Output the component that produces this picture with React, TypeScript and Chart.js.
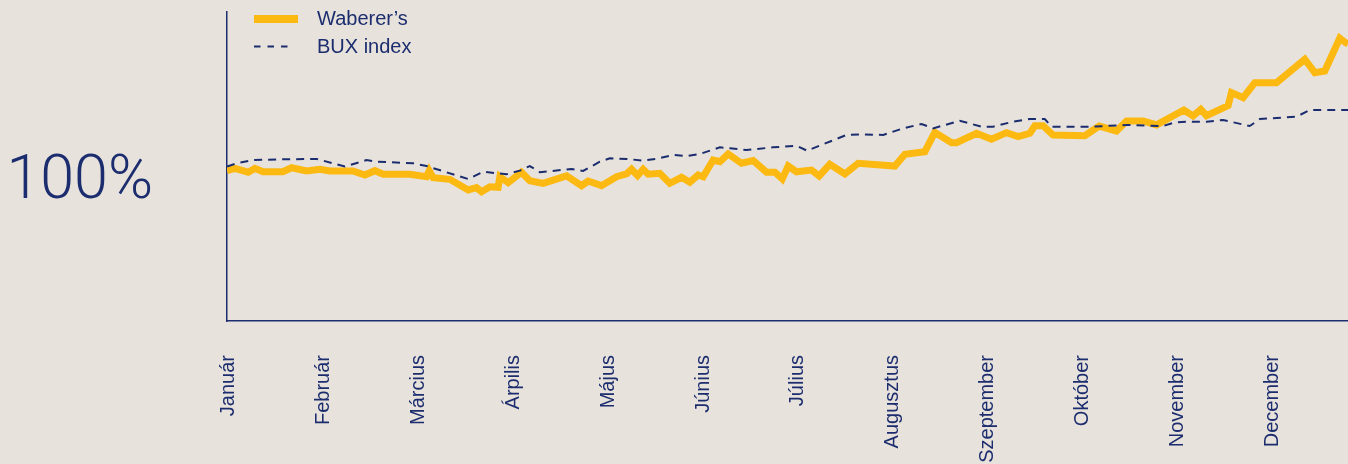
import React, { useEffect, useRef } from 'react';
import { Chart, registerables } from 'chart.js';

Chart.register(...registerables);

const months = ['Január', 'Február', 'Március', 'Árpilis', 'Május', 'Június', 'Július', 'Augusztus', 'Szeptember', 'Október', 'November', 'December'];

// x in month units (0 = start of January), y in % of the starting level
const wabererX = [-0.02, 0.063, 0.203, 0.274, 0.358, 0.569, 0.661, 0.819, 0.959, 1.065, 1.307, 1.434, 1.539, 1.627, 1.908, 2.084, 2.112, 2.154, 2.33, 2.523, 2.611, 2.664, 2.752, 2.839, 2.857, 2.945, 3.084, 3.173, 3.314, 3.56, 3.719, 3.788, 3.929, 4.088, 4.193, 4.246, 4.309, 4.368, 4.421, 4.544, 4.649, 4.773, 4.86, 4.948, 5.001, 5.106, 5.177, 5.264, 5.405, 5.528, 5.669, 5.757, 5.835, 5.897, 5.985, 6.143, 6.224, 6.336, 6.495, 6.635, 7.022, 7.128, 7.338, 7.443, 7.62, 7.672, 7.883, 8.041, 8.199, 8.322, 8.445, 8.498, 8.585, 8.69, 9.025, 9.176, 9.359, 9.465, 9.64, 9.781, 10.069, 10.167, 10.248, 10.308, 10.536, 10.571, 10.694, 10.817, 11.046, 11.344, 11.45, 11.555, 11.713, 11.776, 11.8];
const wabererY = [97.3, 98.8, 96.3, 98.8, 96.6, 96.6, 99.2, 97.1, 98.2, 97.1, 97.1, 94.5, 97.3, 95.0, 95.0, 93.4, 97.3, 92.8, 91.7, 84.8, 86.3, 83.7, 86.9, 86.5, 93.4, 89.5, 96.3, 90.8, 89.1, 93.9, 87.6, 90.6, 87.6, 93.4, 95.2, 98.2, 94.1, 98.2, 95.0, 95.6, 89.1, 93.0, 89.8, 94.5, 93.4, 104.2, 103.1, 108.1, 102.1, 103.8, 96.3, 96.3, 92.0, 100.3, 96.6, 97.7, 93.9, 101.4, 95.2, 102.1, 100.3, 107.9, 109.6, 122.1, 115.4, 115.4, 121.5, 117.6, 121.9, 119.3, 121.5, 126.4, 126.4, 120.4, 119.9, 126.2, 123.0, 129.5, 129.5, 126.9, 136.6, 132.7, 137.0, 132.9, 139.4, 147.8, 144.5, 154.2, 154.2, 169.4, 160.7, 161.8, 183.0, 180.1, 179.5];

const buxX = [-0.02, 0.081, 0.256, 0.608, 0.925, 1.223, 1.452, 1.557, 1.943, 2.084, 2.523, 2.681, 2.928, 3.068, 3.173, 3.279, 3.613, 3.735, 3.911, 4.017, 4.193, 4.368, 4.509, 4.684, 4.826, 4.966, 5.177, 5.282, 5.458, 5.739, 5.985, 6.097, 6.266, 6.512, 6.653, 6.898, 7.109, 7.303, 7.425, 7.707, 7.936, 8.058, 8.269, 8.445, 8.603, 8.674, 9.112, 9.465, 9.85, 9.974, 10.132, 10.308, 10.483, 10.764, 10.87, 11.257, 11.397, 11.8];
const buxY = [100.0, 102.1, 104.2, 104.7, 104.9, 100.0, 104.2, 103.1, 102.1, 100.3, 91.9, 96.6, 95.0, 97.3, 100.3, 96.3, 98.4, 97.1, 103.1, 105.3, 104.9, 103.8, 104.9, 107.5, 106.8, 108.1, 112.4, 111.8, 110.7, 112.4, 113.5, 110.2, 114.4, 120.4, 120.8, 120.4, 124.7, 127.5, 124.7, 129.6, 125.8, 125.8, 129.0, 130.7, 130.7, 125.8, 125.8, 126.9, 126.2, 128.6, 129.0, 129.0, 130.1, 126.2, 130.7, 132.2, 136.6, 136.6];

const seriesNames = ['Waberer’s', 'BUX index'];
const yTickValues = [100];

const BG = '#e8e2dc';
const NAVY = '#1b2d6e';
const YELLOW = '#fcb912';
const SANS = '"Liberation Sans", Arial, sans-serif';

const floatLegend = {
  id: 'floatLegend',
  afterDraw(chart: any) {
    const ctx = chart.ctx as CanvasRenderingContext2D;
    const ds = chart.data.datasets;
    ctx.save();
    ctx.lineCap = 'butt';
    ctx.strokeStyle = ds[0].borderColor;
    ctx.lineWidth = 8;
    ctx.beginPath();
    ctx.moveTo(254, 19);
    ctx.lineTo(298, 19);
    ctx.stroke();
    ctx.strokeStyle = ds[1].borderColor;
    ctx.lineWidth = 2;
    ctx.setLineDash([6.5, 7]);
    ctx.beginPath();
    ctx.moveTo(254, 46.5);
    ctx.lineTo(294, 46.5);
    ctx.stroke();
    ctx.setLineDash([]);
    ctx.fillStyle = NAVY;
    ctx.font = '20px ' + SANS;
    ctx.textBaseline = 'alphabetic';
    ctx.textAlign = 'left';
    ctx.fillText(ds[0].label, 317, 25);
    ctx.fillText(ds[1].label, 317, 53);
    ctx.restore();
  },
};

export default function App() {
  const ref = useRef<HTMLCanvasElement | null>(null);

  useEffect(() => {
    if (!ref.current) return;
    const chart = new Chart(ref.current, {
      type: 'line',
      data: {
        datasets: [
          {
            label: seriesNames[0],
            data: wabererX.map((x, i) => ({ x, y: wabererY[i] })),
            borderColor: YELLOW,
            borderWidth: 7,
            pointRadius: 0,
            tension: 0,
            borderJoinStyle: 'miter',
            fill: false,
            order: 2,
          },
          {
            label: seriesNames[1],
            data: buxX.map((x, i) => ({ x, y: buxY[i] })),
            borderColor: NAVY,
            borderWidth: 2,
            borderDash: [8, 6],
            pointRadius: 0,
            tension: 0,
            fill: false,
            order: 1,
          },
        ],
      },
      options: {
        responsive: false,
        animation: false,
        events: [],
        layout: { padding: { top: 12, left: 0, right: 0, bottom: 0 } },
        plugins: {
          legend: { display: false },
          tooltip: { enabled: false },
        },
        scales: {
          x: {
            type: 'linear',
            min: -0.02,
            max: 11.8,
            grid: { display: false, drawTicks: false },
            border: { display: true, color: NAVY, width: 1.5 },
            afterBuildTicks: (scale: any) => {
              scale.ticks = months.map((_, i) => ({ value: i }));
            },
            afterFit: (scale: any) => {
              scale.height = 143;
              scale.paddingLeft = 0;
              scale.paddingRight = 0;
            },
            ticks: {
              autoSkip: false,
              minRotation: 90,
              maxRotation: 90,
              padding: 34,
              color: NAVY,
              font: { family: SANS, size: 20 },
              callback: (v: any) => months[Math.round(Number(v))] ?? '',
            },
          },
          y: {
            type: 'linear',
            min: 0,
            max: 200,
            grid: { display: false, drawTicks: false },
            border: { display: true, color: NAVY, width: 1.5 },
            afterBuildTicks: (scale: any) => {
              scale.ticks = yTickValues.map((v) => ({ value: v }));
            },
            afterFit: (scale: any) => {
              scale.width = 227;
              scale.paddingTop = 0;
              scale.paddingBottom = 0;
            },
            ticks: {
              padding: 74,
              labelOffset: 16,
              color: NAVY,
              font: { family: 'Roboto, "Open Sans", sans-serif', size: 61, weight: '300' },
              callback: (v: any) => v + '%',
            },
          },
        },
      },
      plugins: [floatLegend],
    } as any);
    return () => chart.destroy();
  }, []);

  return (
    <div style={{ position: 'fixed', left: 0, top: 0, width: 1348, height: 464, background: BG, overflow: 'hidden' }}>
      <canvas ref={ref} width={1348} height={464} style={{ display: 'block' }} />
    </div>
  );
}
